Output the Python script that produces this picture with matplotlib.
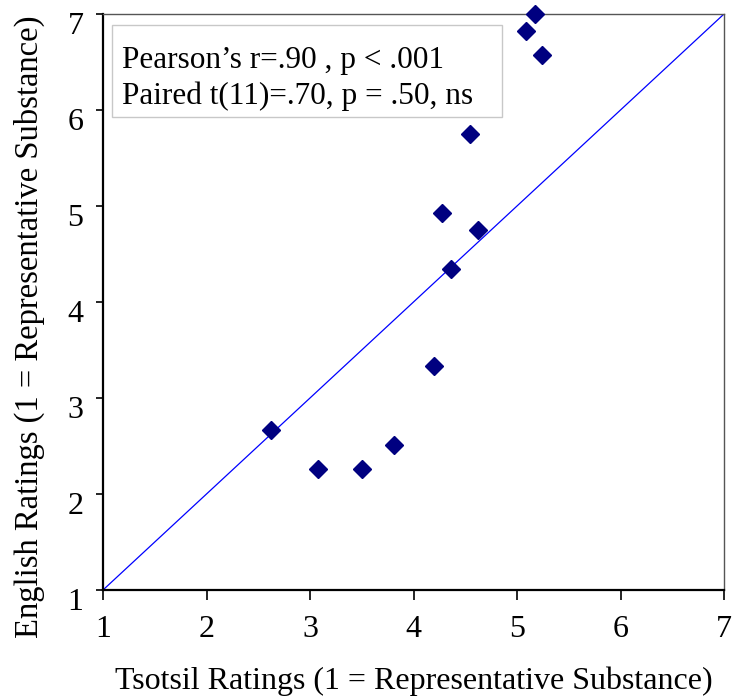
import matplotlib
matplotlib.use("Agg")
import matplotlib.pyplot as plt
from matplotlib.patches import Rectangle
from matplotlib.transforms import ScaledTranslation

plt.rcParams['font.family'] = ['Liberation Serif', 'DejaVu Serif']

tsotsil = [5.17, 5.09, 5.24, 4.55, 4.28, 4.62, 4.36, 4.20, 2.62, 3.08, 3.50, 3.81]
english = [7.00, 6.82, 6.57, 5.75, 4.93, 4.75, 4.34, 3.33, 2.67, 2.26, 2.26, 2.51]
ticks = [1, 2, 3, 4, 5, 6, 7]
diag = [1, 7]
stat_lines = ["Pearson\u2019s r=.90 , p < .001", "Paired t(11)=.70, p = .50, ns"]

fig = plt.figure(figsize=(7.38, 6.96), dpi=100)
ax = fig.add_axes([103/738, 1-590/696, (724-103)/738, (590-14)/696])

ax.plot(diag, diag, color='#0000FF', lw=0.9, zorder=2)
ax.plot(tsotsil, english, linestyle='none', marker='D', ms=9.5,
        color='#000080', mec='#000080', zorder=3, clip_on=False)

ax.set_xlim(1, 7)
ax.set_ylim(1, 7)
ax.set_xticks(ticks)
ax.set_yticks(ticks)
ax.tick_params(axis='both', labelsize=23, direction='out', width=1.2, color='black')
ax.tick_params(axis='x', length=7, pad=11)
ax.tick_params(axis='y', length=5, pad=9)
shift = ScaledTranslation(0, -9/100, fig.dpi_scale_trans)
for lab in ax.get_yticklabels():
    lab.set_transform(lab.get_transform() + shift)

for s in ['left', 'bottom']:
    ax.spines[s].set_color('black')
    ax.spines[s].set_linewidth(1.6)
for s in ['top', 'right']:
    ax.spines[s].set_color('#555555')
    ax.spines[s].set_linewidth(1.0)

ax.set_xlabel('Tsotsil Ratings (1 = Representative Substance)', fontsize=23, labelpad=16)
ax.set_ylabel('English Ratings (1 = Representative Substance)', fontsize=23.5)
ax.yaxis.set_label_coords(-0.094, (590-327)/576)

ax.add_patch(Rectangle((9/621, (590-117)/576), (502-112)/621, (117-25)/576,
                       transform=ax.transAxes, facecolor='white', edgecolor='#c8c8c8',
                       lw=1, zorder=4))
ax.text(19/621, (590-68)/576, stat_lines[0], transform=ax.transAxes, fontsize=22.5,
        va='baseline', ha='left', zorder=5)
ax.text(19/621, (590-104)/576, stat_lines[1], transform=ax.transAxes, fontsize=22.5,
        va='baseline', ha='left', zorder=5)

fig.savefig('out.png', dpi=100)
